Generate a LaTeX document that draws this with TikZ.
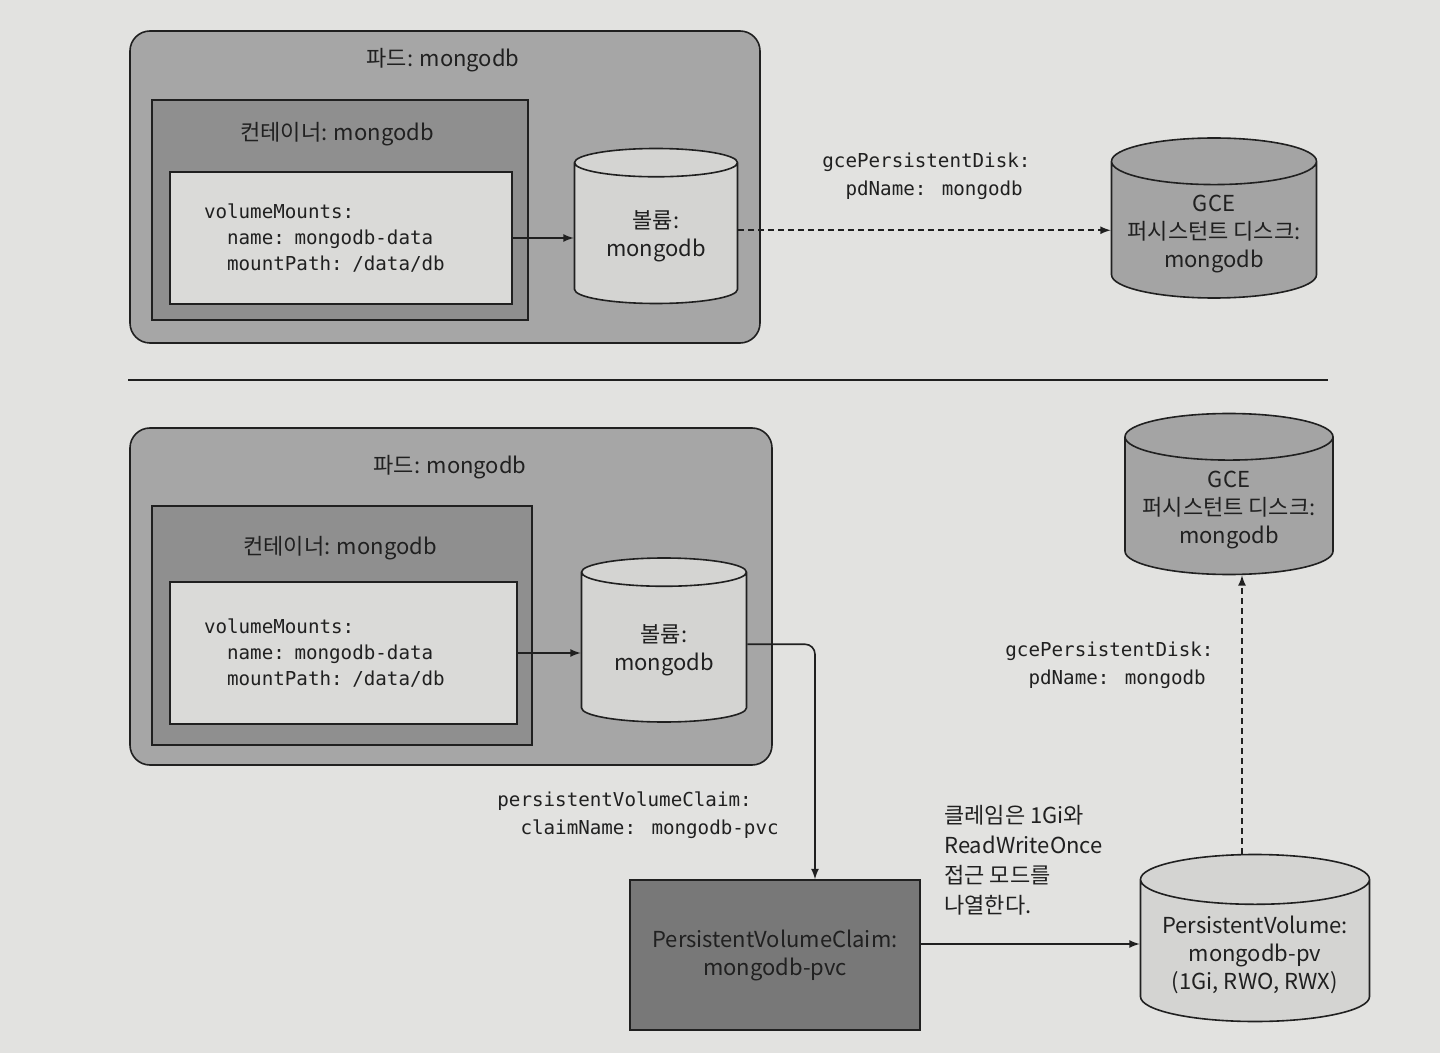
\documentclass[tikz,border=0pt]{standalone}
\usepackage{fontspec}
\setmainfont{Noto Sans CJK KR}
\newfontfamily\codefont{DejaVu Sans Mono}
\usetikzlibrary{shapes.geometric}
\definecolor{pagegray}{RGB}{226,226,224}
\definecolor{podgray}{RGB}{166,166,166}
\definecolor{containergray}{RGB}{143,143,143}
\definecolor{mountgray}{RGB}{218,218,216}
\definecolor{volumegray}{RGB}{212,212,210}
\definecolor{diskgray}{RGB}{164,164,164}
\definecolor{claimgray}{RGB}{120,120,120}
\definecolor{inkgray}{RGB}{32,32,32}
\tikzset{
    podbox/.style = {
        shape=rectangle,
        draw=inkgray,
        line width=0.8pt,
        rounded corners=10pt,
        fill=podgray},
    containerbox/.style = {
        podbox,
        rounded corners=0pt,
        fill=containergray},
    mountbox/.style = {
        containerbox,
        fill=mountgray,
        align=left,
        inner xsep=17pt,
        font=\codefont\fontsize{9.6}{13}\selectfont},
    claimbox/.style = {
        containerbox,
        fill=claimgray,
        align=center},
    cyl/.style = {
        shape=cylinder,
        shape border rotate=90,
        aspect=0.25,
        anchor=shape center,
        draw=inkgray,
        line width=0.8pt,
        align=center},
    volumecyl/.style = {
        cyl,
        fill=volumegray},
    diskcyl/.style = {
        cyl,
        fill=diskgray},
    yamltext/.style = {
        align=left,
        inner sep=0pt,
        font=\codefont\fontsize{9.6}{14}\selectfont},
    note/.style = {
        align=left,
        inner sep=0pt,
        font=\fontsize{11}{15}\selectfont}
}
\begin{document}
\begin{tikzpicture}[
    x                 = 0.5pt,
    y                 = -0.5pt,
    every node/.style = {font=\fontsize{11}{14}\selectfont, text=inkgray},
    arrowline/.style  = {draw=inkgray, line width=0.8pt, -latex},
    dashline/.style   = {arrowline, dash pattern=on 3pt off 2pt}
]

\fill[pagegray] (0,0) rectangle (1440,1053);

\node [podbox, minimum width=315pt, minimum height=156pt] (pod1) at (445,187) {};
\node (podname1) at (443,60) {파드: mongodb};
\node [containerbox, minimum width=188pt, minimum height=110pt] (container1) at (340,210) {};
\node (containername1) at (337,134) {컨테이너: mongodb};
\node [mountbox, minimum height=66pt, text width=137pt] (mounts1) at (341,238)
    {volumeMounts:\\\phantom{vo}name: mongodb-data\\\phantom{vo}mountPath: /data/db};
\node [volumecyl, minimum width=81.5pt, minimum height=77.5pt] (volume1) at (656,226) {볼륨:\\mongodb};
\node [diskcyl, minimum width=102.5pt, minimum height=80pt] (gce1) at (1214,218)
    {GCE\\퍼시스턴트 디스크:\\mongodb};
\node [yamltext, anchor=west] (disklabel1) at (822,176)
    {gcePersistentDisk:\\\phantom{gc}pdName: mongodb};

\draw [arrowline] (mounts1.east) -- (mounts1.east -| volume1.west);
\draw [dashline] ([yshift=3pt]volume1.east) -- ([yshift=3pt]volume1.east -| gce1.west);

\draw [inkgray, line width=0.8pt] (128,380) -- (1328,380);

\node [podbox, minimum width=321pt, minimum height=168.5pt] (pod2) at (451,596.5) {};
\node (podname2) at (450,467) {파드: mongodb};
\node [containerbox, minimum width=190pt, minimum height=119.5pt] (container2) at (342,625.5) {};
\node (containername2) at (340,548) {컨테이너: mongodb};
\node [mountbox, minimum height=71pt, text width=139.5pt] (mounts2) at (343.5,653)
    {volumeMounts:\\\phantom{vo}name: mongodb-data\\\phantom{vo}mountPath: /data/db};
\node [volumecyl, minimum width=82.5pt, minimum height=82pt] (volume2) at (664,640) {볼륨:\\mongodb};
\node [diskcyl, minimum width=104pt, minimum height=80.5pt] (gce2) at (1229,494)
    {GCE\\퍼시스턴트 디스크:\\mongodb};
\node [claimbox, minimum width=145pt, minimum height=75pt] (pvc) at (775,955)
    {PersistentVolumeClaim:\\mongodb-pvc};
\node [volumecyl, minimum width=114.5pt, minimum height=83.5pt] (pv) at (1255,938)
    {PersistentVolume:\\mongodb-pv\\(1Gi, RWO, RWX)};
\node [yamltext, anchor=west] (claimlabel) at (497,815)
    {persistentVolumeClaim:\\\phantom{pe}claimName: mongodb-pvc};
\node [yamltext, anchor=west] (disklabel2) at (1005,665)
    {gcePersistentDisk:\\\phantom{gc}pdName: mongodb};
\node [note, anchor=west] (accessnote) at (944,860)
    {클레임은 1Gi와\\ReadWriteOnce\\접근 모드를\\나열한다.};

\coordinate (claimturn) at (815,0);
\draw [arrowline] (mounts2.east) -- (mounts2.east -| volume2.west);
\draw [arrowline, rounded corners=5pt] ([yshift=3pt]volume2.east) -| (claimturn |- pvc.north);
\draw [arrowline] ([yshift=5.5pt]pvc.east) -- ([yshift=5.5pt]pvc.east -| pv.west);
\draw [dashline] (pv.north -| 1242,0) -- (gce2.south -| 1242,0);

\end{tikzpicture}
\end{document}
